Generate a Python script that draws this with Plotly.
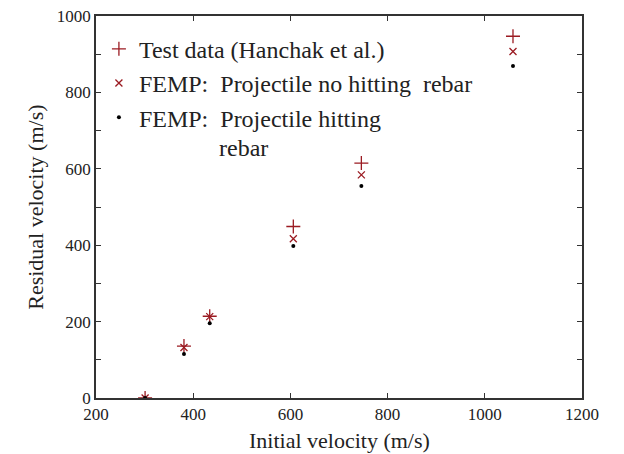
import plotly.graph_objects as go

initial_velocity = [301, 381, 434, 606, 746, 1058]
test_residual = [0, 136, 214, 449, 615, 947]
femp_no_rebar = [0, 132, 213, 417, 584, 907]
femp_rebar = [0, 115, 196, 398, 555, 869]

red = "#9B1B22"
font_family = "Liberation Serif"
txt = "#222"

fig = go.Figure()
fig.add_trace(go.Scatter(
    x=initial_velocity, y=test_residual, mode="markers",
    name="Test data (Hanchak et al.)",
    marker=dict(symbol="cross-thin", size=10, line=dict(color=red, width=1.3), color=red),
))
fig.add_trace(go.Scatter(
    x=initial_velocity, y=femp_no_rebar, mode="markers",
    name="FEMP:  Projectile no hitting  rebar",
    marker=dict(symbol="x-thin", size=7, line=dict(color=red, width=1.3), color=red),
))
fig.add_trace(go.Scatter(
    x=initial_velocity, y=femp_rebar, mode="markers",
    name="FEMP:  Projectile hitting",
    marker=dict(symbol="circle", size=4, color="black"),
))

axis_common = dict(
    showline=True, linecolor="#333", linewidth=1.5, mirror="ticks",
    ticks="inside", ticklen=5, tickcolor="#333", showgrid=False, zeroline=False,
    automargin=False,
    tickfont=dict(family=font_family, size=17, color=txt),
)
fig.update_xaxes(range=[200, 1200], dtick=200, tick0=200, **axis_common)
fig.update_yaxes(range=[0, 1000], dtick=200,
                 minor=dict(dtick=100, ticks="inside", ticklen=5, tickcolor="#333"),
                 **axis_common)

fig.add_annotation(text="Initial velocity (m/s)", xref="paper", yref="paper",
                   x=0.5, y=-0.11, xanchor="center", yanchor="middle", showarrow=False,
                   font=dict(family=font_family, size=22, color=txt))
fig.add_annotation(text="Residual velocity (m/s)", xref="paper", yref="paper",
                   x=-0.126, y=0.5, xanchor="center", yanchor="middle", showarrow=False,
                   textangle=-90, font=dict(family=font_family, size=22, color=txt))
fig.add_annotation(text="rebar", xref="paper", yref="paper",
                   x=0.248, y=0.655, xanchor="left", yanchor="middle", showarrow=False,
                   font=dict(family=font_family, size=24, color=txt))

fig.update_layout(
    width=624, height=454,
    margin=dict(l=96, r=42, t=16, b=56),
    plot_bgcolor="white", paper_bgcolor="white",
    showlegend=True,
    font=dict(family=font_family),
    legend=dict(x=0.006, y=0.972, xanchor="left", yanchor="top", valign="top",
                bgcolor="rgba(0,0,0,0)", font=dict(family=font_family, size=24, color=txt),
                tracegroupgap=0, itemwidth=30),
)

fig.write_html("out.html")
